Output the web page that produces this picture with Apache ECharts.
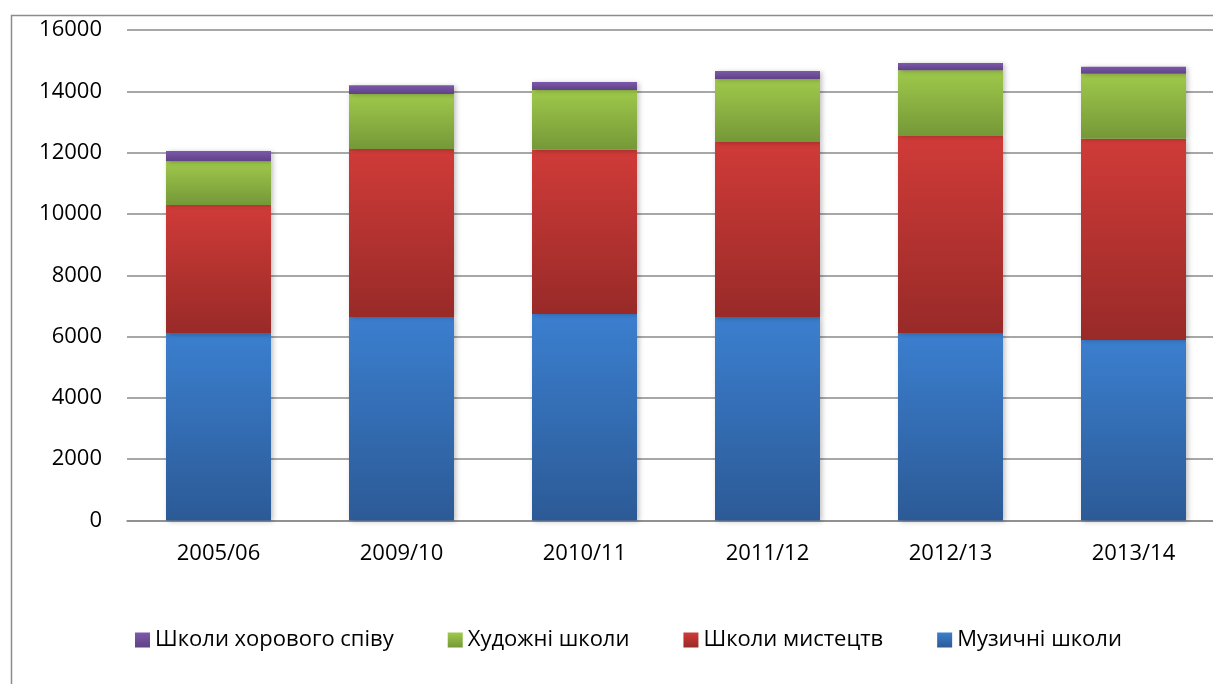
<!DOCTYPE html>
<html>
<head>
<meta charset="utf-8">
<script src="https://cdn.jsdelivr.net/npm/echarts@6/dist/echarts.min.js"></script>
<style>
html,body{margin:0;padding:0;background:#fff;overflow:hidden;width:1213px;height:684px;}
#chart{width:1225px;height:684px;}
</style>
</head>
<body>
<div id="chart"></div>
<script>
var categories = ['2005/06', '2009/10', '2010/11', '2011/12', '2012/13', '2013/14'];
var music = [6090, 6640, 6740, 6610, 6120, 5890];
var arts = [4200, 5480, 5350, 5740, 6420, 6560];
var fine = [1430, 1790, 1950, 2050, 2150, 2120];
var choir = [330, 290, 260, 260, 230, 230];
var yTicks = [0, 2000, 4000, 6000, 8000, 10000, 12000, 14000, 16000];

var FONT = '"Open Sans", "Noto Sans", sans-serif';

function grad(top, bottom) {
  return new echarts.graphic.LinearGradient(0, 0, 0, 1, [
    {offset: 0, color: top}, {offset: 1, color: bottom}
  ]);
}

function series(name, data, top, bottom) {
  return {
    name: name,
    type: 'bar',
    stack: 'total',
    barWidth: 105,
    data: data,
    itemStyle: {
      color: grad(top, bottom),
      shadowColor: 'rgba(0,0,0,0.25)',
      shadowBlur: 5,
      shadowOffsetX: 2,
      shadowOffsetY: 1
    },
    emphasis: {disabled: true}
  };
}

var chart = echarts.init(document.getElementById('chart'), null, {renderer: 'canvas'});
chart.setOption({
  animation: false,
  backgroundColor: '#ffffff',
  graphic: [{
    type: 'rect',
    left: 9, top: 13,
    shape: {width: 1400, height: 900},
    style: {fill: 'none', stroke: '#8c8c8c', lineWidth: 1.5},
    silent: true, z: 0
  }],
  grid: {left: 127, right: 0, top: 30, bottom: 163.5, containLabel: false},
  legend: {
    left: 130, top: 624,
    itemWidth: 15, itemHeight: 15, itemGap: 54,
    icon: 'rect',
    textStyle: {fontFamily: FONT, fontSize: 22, color: '#000', padding: [0, 0, 0, 0]},
    data: ['Школи хорового співу', 'Художні школи', 'Школи мистецтв', 'Музичні школи']
  },
  xAxis: {
    type: 'category',
    data: categories,
    axisLine: {show: true, lineStyle: {color: '#8a8a8a', width: 1.5}},
    axisTick: {show: false},
    axisLabel: {fontFamily: FONT, fontSize: 22, color: '#000', margin: 22}
  },
  yAxis: {
    type: 'value',
    min: yTicks[0], max: yTicks[yTicks.length - 1], interval: 2000,
    axisLine: {show: false},
    axisTick: {show: false},
    splitLine: {show: true, lineStyle: {color: '#8a8a8a', width: 1.5}},
    axisLabel: {fontFamily: FONT, fontSize: 22, color: '#000', margin: 25,
      formatter: function (v) { return String(v); }}
  },
  series: [
    series('Музичні школи', music, '#3b7fcf', '#2c5a96'),
    series('Школи мистецтв', arts, '#d03b38', '#982a28'),
    series('Художні школи', fine, '#9fc94b', '#759838'),
    series('Школи хорового співу', choir, '#7c58aa', '#5f4285')
  ]
});
</script>
</body>
</html>
